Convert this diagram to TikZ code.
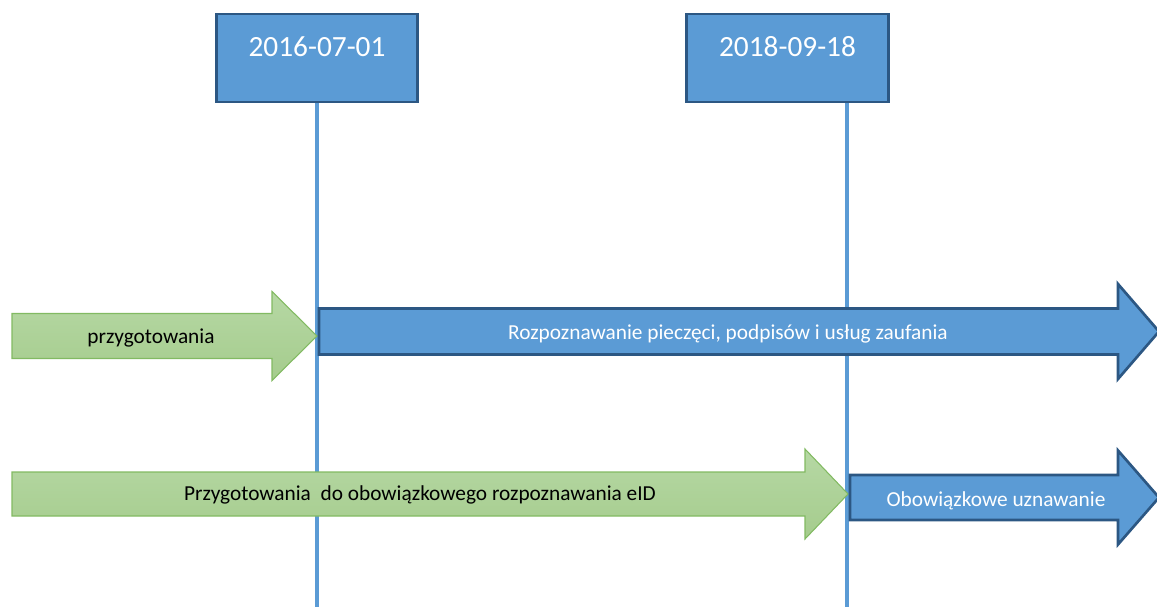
\documentclass[tikz,border=0pt]{standalone}
\usepackage{fontspec}
\setmainfont{Carlito}
\usetikzlibrary{positioning}
\definecolor{boxblue}{HTML}{5B9BD5}
\definecolor{boxedge}{HTML}{2C5783}
\definecolor{greentop}{HTML}{B6D8A4}
\definecolor{greenbot}{HTML}{A5CC8D}
\definecolor{greenedge}{HTML}{82BA62}
% arrow: style, x start, x head, x tip, y centre, half body, half head
\newcommand{\tlarrow}[7]{%
  \draw[#1] (#2,#5-#6) -- (#3,#5-#6) -- (#3,#5-#7) -- (#4,#5)
    -- (#3,#5+#7) -- (#3,#5+#6) -- (#2,#5+#6) -- cycle;}

\begin{document}
\begin{tikzpicture}[x=0.75pt,y=-0.75pt,% one unit = one pixel of the reference
		datebox/.style={
			rectangle,draw=boxedge,line width=2.2pt,fill=boxblue,
			minimum width=151pt,minimum height=66pt
		},
		datetext/.style={text=white,font=\fontsize{22}{26}\selectfont},
		tick/.style={draw=boxblue,line width=2.4pt},
		bluearrow/.style={draw=boxedge,line width=2pt,fill=boxblue,line join=miter},
		greenarrow/.style={draw=greenedge,line width=0.8pt,top color=greentop,bottom color=greenbot},
		bluetext/.style={text=white,font=\fontsize{16}{19}\selectfont},
		greentext/.style={text=black,font=\fontsize{16}{19}\selectfont}
	]
	\useasboundingbox (0,0) rectangle (1157,610);
	% dates and their lines
	\node[datebox](d1) at (317,58) {};
	\node[datebox](d2) at (787.5,58) {};
	\node[datetext](t1) at (317,47) {2016-07-01};
	\node[datetext](t2) at (787.5,47) {2018-09-18};
	\coordinate (e1) at (317,607);
	\coordinate (e2) at (847,607);
	\draw[tick] (d1.south) -- (e1);
	\draw[tick] (e2 |- d2.south) -- (e2);
	% first row
	\tlarrow{greenarrow}{12}{272}{317}{336}{22.5}{44.5}
	\tlarrow{bluearrow}{319}{1118}{1159}{331.5}{23}{47.5}
	\node[greentext](a1) at (151,338) {przygotowania};
	\node[bluetext](a2) at (728,334) {Rozpoznawanie pieczęci, podpisów i usług zaufania};
	% second row
	\tlarrow{greenarrow}{12}{805}{848}{494}{22}{45}
	\tlarrow{bluearrow}{850}{1118}{1159}{497.5}{22.5}{47}
	\node[greentext](a3) at (420,495) {Przygotowania\ \ do obowiązkowego rozpoznawania eID};
	\node[bluetext](a4) at (996,501) {Obowiązkowe uznawanie};
\end{tikzpicture}
\end{document}
